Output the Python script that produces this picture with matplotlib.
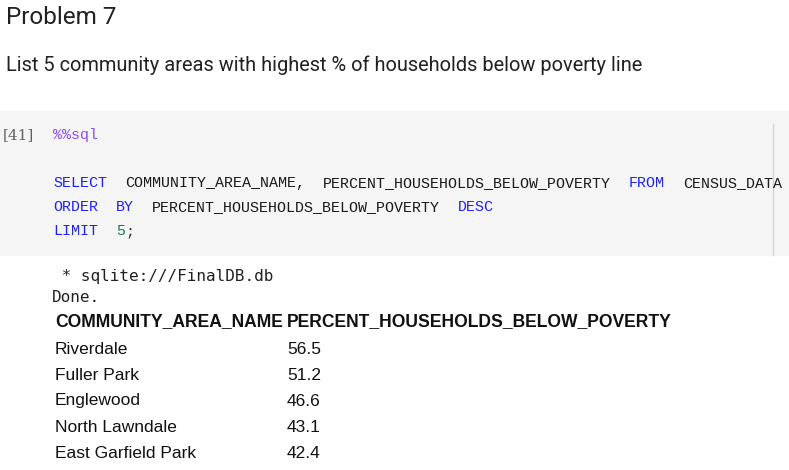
import matplotlib.pyplot as plt
from matplotlib.patches import Rectangle

# notebook content
title = "Problem 7"
question = "List 5 community areas with highest % of households below poverty line"
cell_label = "[41]"
magic = "%%sql"
sql_lines = [
    "SELECT  COMMUNITY_AREA_NAME,  PERCENT_HOUSEHOLDS_BELOW_POVERTY  FROM  CENSUS_DATA",
    "ORDER  BY  PERCENT_HOUSEHOLDS_BELOW_POVERTY  DESC",
    "LIMIT  5;",
]
keywords = ["SELECT", "FROM", "ORDER", "BY", "DESC", "LIMIT"]
out_lines = [" * sqlite:///FinalDB.db", "Done."]
columns = ["COMMUNITY_AREA_NAME", "PERCENT_HOUSEHOLDS_BELOW_POVERTY"]
areas = ["Riverdale", "Fuller Park", "Englewood", "North Lawndale", "East Garfield Park"]
percents = [56.5, 51.2, 46.6, 43.1, 42.4]

W, H = 789, 470
fig = plt.figure(figsize=(W / 100, H / 100), dpi=100)
ax = fig.add_axes([0, 0, 1, 1])
ax.set_xlim(0, W)
ax.set_ylim(H, 0)
ax.axis('off')

# markdown cell
ax.text(6, 18, title, family='Roboto', fontsize=17.5, color='#212121', va='center')
ax.text(6, 65, question, family='Roboto', fontsize=14.4, color='#212121', va='center')

# code cell
ax.add_patch(Rectangle((0, 111), W, 144, color='#f5f5f5', zorder=0))
ax.plot([773, 773], [124, 255], color='#d6d6d6', lw=1)

mono = 'Liberation Mono'
col_w = 9
x0 = 53
ax.text(3, 135, cell_label, family='DejaVu Serif', fontsize=11, color='#616161', va='center')
ax.text(x0, 135, magic, family=mono, fontsize=10.8, color='#8a4cff', va='center')


def draw_code(line, y):
    col = 0
    for tok in line.split(' '):
        if tok:
            if tok in keywords:
                ax.text(x0 + col * col_w, y, tok, family=mono, fontsize=10.8, color='#2020ff', va='center')
            elif tok.rstrip(';').isdigit():
                num = tok.rstrip(';')
                ax.text(x0 + col * col_w, y, num, family=mono, fontsize=10.8, color='#117755', va='center')
                if tok.endswith(';'):
                    ax.text(x0 + (col + len(num)) * col_w, y, ';', family=mono, fontsize=10.8, color='#333333', va='center')
            else:
                ax.text(x0 + col * col_w, y, tok, family=mono, fontsize=10.8, color='#1a1a1a', va='center')
        col += len(tok) + 1


for i, line in enumerate(sql_lines):
    draw_code(line, 183 + i * 24)

# output
ax.text(52, 276, out_lines[0], family='DejaVu Sans Mono', fontsize=11.5, color='#212121', va='center')
ax.text(52, 297, out_lines[1], family='DejaVu Sans Mono', fontsize=11.5, color='#212121', va='center')

col_x = [55, 287]
ax.text(col_x[0], 322, columns[0], family='Liberation Sans', fontsize=12.65, weight='bold', color='#111111', va='center')
ax.text(col_x[1], 322, columns[1], family='Liberation Sans', fontsize=12.65, weight='bold', color='#111111', va='center')
for i, (name, pct) in enumerate(zip(areas, percents)):
    y = 349 + i * 26
    ax.text(col_x[0], y, name, family='Liberation Sans', fontsize=12.5, color='#111111', va='center')
    ax.text(col_x[1], y, f"{pct}", family='Liberation Sans', fontsize=12.5, color='#111111', va='center')

fig.savefig('out.png', dpi=100)
